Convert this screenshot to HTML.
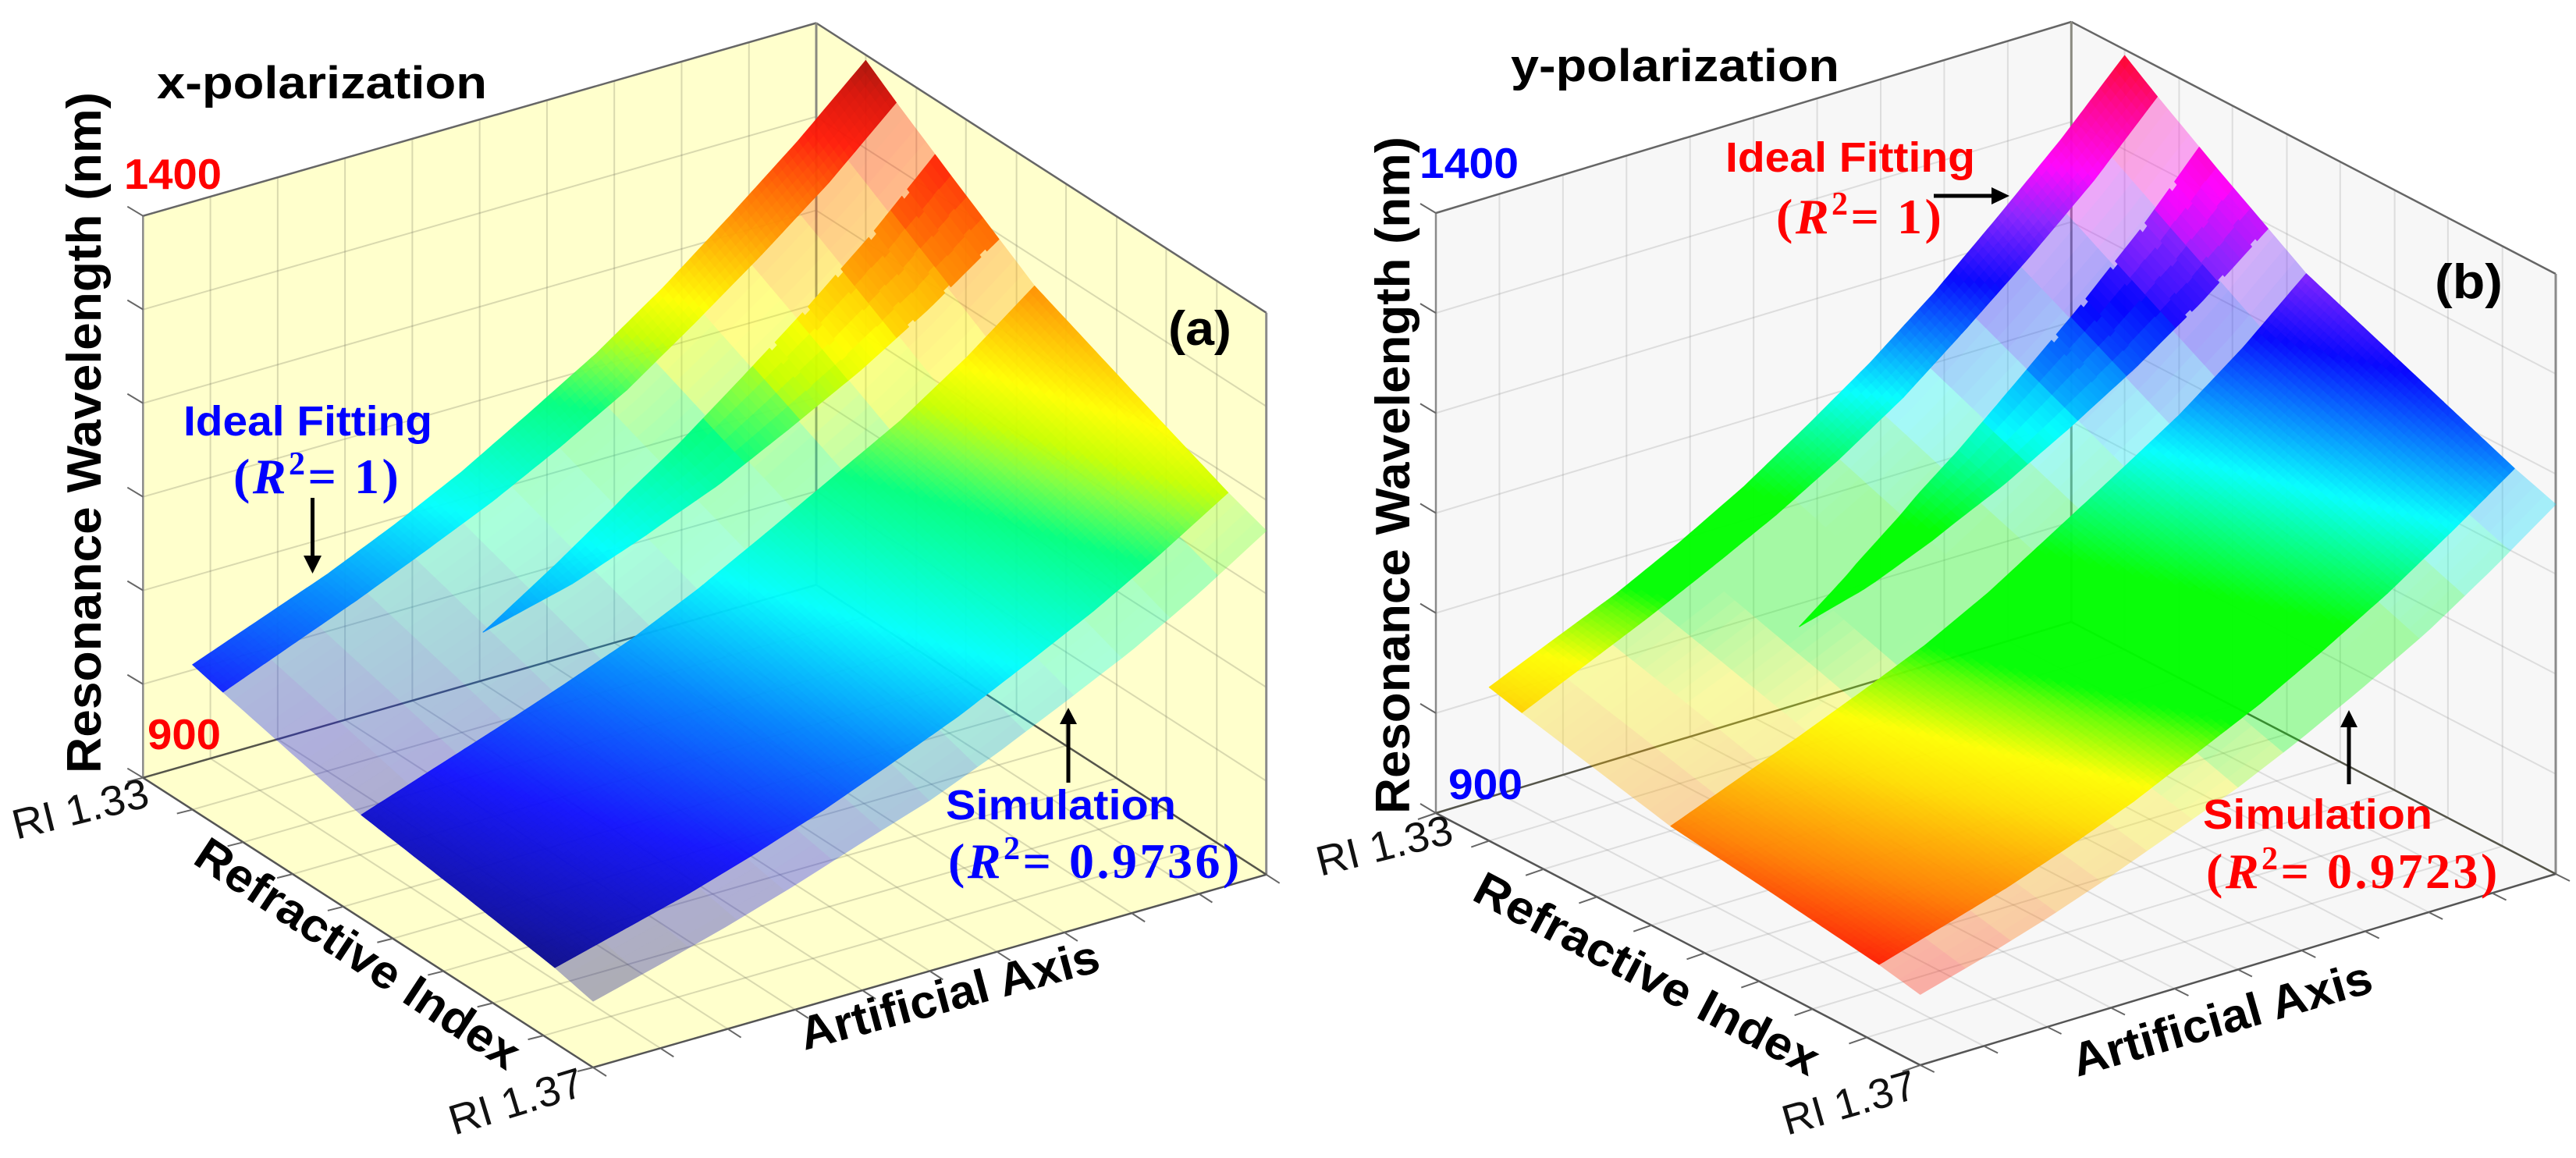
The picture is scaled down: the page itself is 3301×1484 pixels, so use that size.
<!DOCTYPE html>
<html lang="en">
<head>
<meta charset="utf-8">
<title>Resonance wavelength surfaces</title>
<style>
html,body{margin:0;padding:0;background:#fff;width:3301px;height:1484px;overflow:hidden}
svg{display:block}
text{font-family:"Liberation Sans",sans-serif}
.ttl{font-weight:700;fill:#000}
.tick{fill:#111;font-size:54px}
.lim{font-weight:700;font-size:55px}
.note{font-weight:700;font-size:54px}
.math{font-family:"Liberation Serif",serif;font-weight:700;font-size:64px;letter-spacing:3.5px}
.math .it{font-style:italic}
</style>
</head>
<body>
<svg id="figure" xmlns="http://www.w3.org/2000/svg" width="3301" height="1484" viewBox="0 0 3301 1484">
  <g id="panel-a"></g>
  <g id="panel-b"></g>

  <!-- panel a text -->
  <text class="ttl" x="201" y="126" font-size="58" textLength="423" lengthAdjust="spacingAndGlyphs">x-polarization</text>
  <text class="ttl" font-size="62" textLength="873" lengthAdjust="spacingAndGlyphs" transform="translate(129,991) rotate(-90)">Resonance Wavelength (nm)</text>
  <text class="lim" fill="#ff0000" x="159" y="242" textLength="125" lengthAdjust="spacingAndGlyphs">1400</text>
  <text class="lim" fill="#ff0000" x="189" y="960" textLength="94" lengthAdjust="spacingAndGlyphs">900</text>
  <text class="ttl" font-size="62" x="1497" y="442" textLength="81" lengthAdjust="spacingAndGlyphs">(a)</text>
  <text class="note" fill="#0000ff" x="235" y="558" textLength="319" lengthAdjust="spacingAndGlyphs">Ideal Fitting</text>
  <text class="math" fill="#0000ff" x="299" y="632">(<tspan class="it">R</tspan><tspan dy="-24" font-size="42">2</tspan><tspan dy="24">= 1)</tspan></text>
  <text class="note" fill="#0000ff" x="1212" y="1050" textLength="295" lengthAdjust="spacingAndGlyphs">Simulation</text>
  <text class="math" fill="#0000ff" x="1215" y="1125">(<tspan class="it">R</tspan><tspan dy="-24" font-size="42">2</tspan><tspan dy="24">= 0.9736)</tspan></text>
  <text class="ttl" font-size="60" textLength="485" lengthAdjust="spacingAndGlyphs" transform="translate(245,1105) rotate(33.5)">Refractive Index</text>
  <text class="ttl" font-size="60" textLength="395" lengthAdjust="spacingAndGlyphs" transform="translate(1031,1346) rotate(-15)">Artificial Axis</text>
  <text class="tick" textLength="178" lengthAdjust="spacingAndGlyphs" transform="translate(21,1076) rotate(-14)">RI 1.33</text>
  <text class="tick" textLength="177" lengthAdjust="spacingAndGlyphs" transform="translate(582,1455) rotate(-17)">RI 1.37</text>
  <g><rect x="398" y="638" width="5" height="76" fill="#000"/><polygon points="389,712 412,712 400.5,735" fill="#000"/></g>
  <g><rect x="1366.5" y="926" width="5" height="77" fill="#000"/><polygon points="1358,928 1380,928 1369,907" fill="#000"/></g>

  <!-- panel b text -->
  <text class="ttl" x="1936" y="104" font-size="58" textLength="421" lengthAdjust="spacingAndGlyphs">y-polarization</text>
  <text class="ttl" font-size="62" textLength="868" lengthAdjust="spacingAndGlyphs" transform="translate(1806,1043) rotate(-90)">Resonance Wavelength (nm)</text>
  <text class="lim" fill="#0000ff" x="1819" y="228" textLength="127" lengthAdjust="spacingAndGlyphs">1400</text>
  <text class="lim" fill="#0000ff" x="1856" y="1024" textLength="95" lengthAdjust="spacingAndGlyphs">900</text>
  <text class="ttl" font-size="62" x="3120" y="382" textLength="87" lengthAdjust="spacingAndGlyphs">(b)</text>
  <text class="note" fill="#ff0000" x="2211" y="220" textLength="320" lengthAdjust="spacingAndGlyphs">Ideal Fitting</text>
  <text class="math" fill="#ff0000" x="2276" y="299">(<tspan class="it">R</tspan><tspan dy="-24" font-size="42">2</tspan><tspan dy="24">= 1)</tspan></text>
  <text class="note" fill="#ff0000" x="2823" y="1062" textLength="294" lengthAdjust="spacingAndGlyphs">Simulation</text>
  <text class="math" fill="#ff0000" x="2827" y="1138">(<tspan class="it">R</tspan><tspan dy="-24" font-size="42">2</tspan><tspan dy="24">= 0.9723)</tspan></text>
  <text class="ttl" font-size="60" textLength="490" lengthAdjust="spacingAndGlyphs" transform="translate(1884,1152) rotate(27.7)">Refractive Index</text>
  <text class="ttl" font-size="60" textLength="397" lengthAdjust="spacingAndGlyphs" transform="translate(2662,1380) rotate(-16)">Artificial Axis</text>
  <text class="tick" textLength="178" lengthAdjust="spacingAndGlyphs" transform="translate(1692,1123) rotate(-14)">RI 1.33</text>
  <text class="tick" textLength="176" lengthAdjust="spacingAndGlyphs" transform="translate(2290,1455) rotate(-16)">RI 1.37</text>
  <g><rect x="2478" y="248.5" width="76" height="5" fill="#000"/><polygon points="2552,240 2552,262 2575,251" fill="#000"/></g>
  <g><rect x="3007.5" y="930" width="5" height="75" fill="#000"/><polygon points="2999,932 3021,932 3010,910" fill="#000"/></g>
</svg>

<script>
// ---- chart data ----
const artificialAxis = [0, 0.1, 0.2, 0.3, 0.4, 0.5, 0.6, 0.7, 0.8, 0.9, 1];
const refractiveIndex = [1.3344, 1.3371, 1.342, 1.3494, 1.358, 1.3666, 1.37];
const wavelengthX = [
  [1029, 1052, 1075, 1102, 1132, 1167, 1203, 1245, 1292, 1341, 1395],
  [1022, 1046, 1070, 1096, 1123, 1154, 1188, 1230, 1274, 1321, 1375],
  [1010, 1033, 1056, 1080, 1105, 1135, 1168, 1207, 1247, 1291, 1341],
  [ 992, 1013, 1034, 1056, 1079, 1107, 1139, 1172, 1205, 1245, 1291],
  [ 980,  998, 1017, 1037, 1059, 1085, 1113, 1144, 1176, 1213, 1254],
  [ 967,  983,  999, 1018, 1039, 1063, 1088, 1117, 1147, 1181, 1218],
  [ 959,  975,  992, 1011, 1032, 1052, 1077, 1105, 1134, 1168, 1206]
];
const wavelengthY = [
  [1028, 1051, 1074, 1101, 1131, 1166, 1203, 1245, 1292, 1341, 1395],
  [1021, 1045, 1069, 1095, 1122, 1153, 1188, 1230, 1274, 1321, 1375],
  [1009, 1032, 1055, 1079, 1104, 1134, 1168, 1207, 1247, 1291, 1341],
  [ 991, 1012, 1033, 1055, 1078, 1106, 1139, 1172, 1206, 1246, 1292],
  [ 979,  997, 1016, 1036, 1058, 1085, 1113, 1144, 1177, 1214, 1256],
  [ 966,  982,  998, 1017, 1038, 1063, 1088, 1117, 1148, 1183, 1220],
  [ 959,  974,  991, 1010, 1031, 1052, 1077, 1105, 1135, 1170, 1208]
];
// "middle wedge" of the opaque fitting surface
const wedgeArtificialX = [0.278, 0.4, 0.518, 0.6, 0.7, 0.85, 1];
const wedgeArtificialY = [0.313, 0.42, 0.53, 0.61, 0.7, 0.85, 1];
const wedgeUpperRI = [1.3436, 1.3427, 1.342, 1.3417, 1.3414, 1.34096, 1.34056];
const wedgeLowerRI = [1.3436, 1.34432, 1.3448, 1.3452, 1.34552, 1.34588, 1.34624];
// opaque / translucent strips across the refractive index
const opaqueStrips = [[1.3344, 1.3371], [1.3494, 1.3666]];
const translucentStrips = [[1.3371, 1.3494], [1.3666, 1.37]];
// axis ticks
const artificialTicks = [0, 0.1, 0.2, 0.3, 0.4, 0.5, 0.6, 0.7, 0.8, 0.9, 1];
const riTicks = [1.33, 1.3344, 1.3389, 1.3433, 1.3478, 1.3522, 1.3567, 1.3611, 1.3656, 1.37];
const wavelengthTicks = [900, 983.3, 1066.7, 1150, 1233.3, 1316.7, 1400];
// colour scales: wavelength stops and their colours
const jetNm = [959, 980, 1015, 1065, 1115, 1175, 1200, 1217, 1240, 1290, 1310, 1345, 1375, 1395];
const jetColors = ['#0a0a78', '#0c0cb0', '#1010ff', '#0080ff', '#00ffff', '#00ff80', '#80ff40', '#c8ff00', '#ffff00', '#ff9000', '#ff6a00', '#ff1808', '#d81008', '#a81008'];
const hueNm = [959, 967, 992, 1027, 1045, 1068, 1078, 1130, 1187, 1255, 1295, 1325, 1365, 1395];
const hueColors = ['#ff1410', '#ff2000', '#ff8000', '#ffe000', '#ffff00', '#60ff00', '#00ff00', '#00ff00', '#00ffff', '#0000ff', '#8a20ff', '#ff00ff', '#ff0090', '#ff0028'];

// ---- geometry of the two boxes ----
const panelA = {root:'panel-a', A:[183.3,996.7], C:[1046,749.5], B:[760,1368], H:720, wall:'#ffffcc', grid:'rgba(110,110,90,.26)', yTick:[-20,-12], riTick:[-20,5], artTick:[17,11], data:wavelengthX, wedge:wedgeArtificialX, nm:jetNm, colors:jetColors};
const panelB = {root:'panel-b', A:[1840,1042], C:[2654.3,797], B:[2460.7,1365], H:769, wall:'#f7f7f7', grid:'rgba(120,120,120,.2)', yTick:[-20,-12], riTick:[-23,8], artTick:[18,9], data:wavelengthY, wedge:wedgeArtificialY, nm:hueNm, colors:hueColors};

const SVGNS = 'http://www.w3.org/2000/svg';

// ---- axis functions ----
function artScale(a){ return a; }
function riScale(ri){ return (ri - 1.33) / 0.04; }
function nmScale(nm){ return (nm - 900) / 500; }
function project(p, a, ri, nm){
  const u = artScale(a), v = riScale(ri), w = nmScale(nm);
  return [
    p.A[0] + u*(p.C[0]-p.A[0]) + v*(p.B[0]-p.A[0]),
    p.A[1] + u*(p.C[1]-p.A[1]) + v*(p.B[1]-p.A[1]) - w*p.H
  ];
}
function locate(arr, x){
  let i = 0;
  while(i < arr.length-2 && x > arr[i+1]) i++;
  return [i, (x-arr[i])/(arr[i+1]-arr[i])];
}
function sample(m, a, ri){
  const [i,s] = locate(artificialAxis, a);
  const [j,t] = locate(refractiveIndex, ri);
  return (1-t)*((1-s)*m[j][i]+s*m[j][i+1]) + t*((1-s)*m[j+1][i]+s*m[j+1][i+1]);
}
function lookup(xs, ys, x){
  const [i,s] = locate(xs, x);
  return ys[i] + s*(ys[i+1]-ys[i]);
}
function hex(c){ return [parseInt(c.slice(1,3),16),parseInt(c.slice(3,5),16),parseInt(c.slice(5,7),16)]; }
function colorOf(p, nm){
  const v = Math.max(p.nm[0], Math.min(p.nm[p.nm.length-1], nm));
  const [i,s] = locate(p.nm, v);
  const c0 = hex(p.colors[i]), c1 = hex(p.colors[i+1]);
  return 'rgb(' + c0.map((c,k)=>Math.round(c+s*(c1[k]-c))).join(',') + ')';
}
function pts(list){ return list.map(q=>q[0].toFixed(1)+','+q[1].toFixed(1)).join(' '); }
function addLine(parent, q0, q1, stroke, width){
  const el = document.createElementNS(SVGNS,'line');
  el.setAttribute('x1',q0[0]); el.setAttribute('y1',q0[1]);
  el.setAttribute('x2',q1[0]); el.setAttribute('y2',q1[1]);
  el.setAttribute('stroke',stroke); el.setAttribute('stroke-width',width);
  parent.appendChild(el);
  return el;
}
function addPoly(parent, list, fill, stroke){
  const el = document.createElementNS(SVGNS,'polygon');
  el.setAttribute('points',pts(list));
  el.setAttribute('fill',fill);
  if(stroke){ el.setAttribute('stroke',fill); el.setAttribute('stroke-width','1'); el.setAttribute('stroke-linejoin','round'); }
  parent.appendChild(el);
  return el;
}
function addGroup(parent, opacity){
  const g = document.createElementNS(SVGNS,'g');
  if(opacity) g.setAttribute('opacity',opacity);
  parent.appendChild(g);
  return g;
}

function drawPanel(p){
  const root = document.getElementById(p.root);
  const floor = 900, top = 1400, r0 = 1.33, r1 = 1.37;
  const P = (a,ri,nm)=>project(p,a,ri,nm);
  let el;

  // walls and floor
  el = addPoly(root,[P(0,r0,floor),P(1,r0,floor),P(1,r0,top),P(0,r0,top)],p.wall);
  
  
  el = addPoly(root,[P(1,r0,floor),P(1,r1,floor),P(1,r1,top),P(1,r0,top)],p.wall);
  
  
  el = addPoly(root,[P(0,r0,floor),P(1,r0,floor),P(1,r1,floor),P(0,r1,floor)],p.wall);
  
  

  // grid lines
  artificialTicks.slice(1,-1).forEach(a=>{
    el = addLine(root,P(a,r0,floor),P(a,r0,top),p.grid,2);
    
    
    el = addLine(root,P(a,r0,floor),P(a,r1,floor),p.grid,2);
    
    
  });
  riTicks.slice(1,-1).forEach(ri=>{
    el = addLine(root,P(1,ri,floor),P(1,ri,top),p.grid,2);
    
    
    el = addLine(root,P(0,ri,floor),P(1,ri,floor),p.grid,2);
    
    
  });
  wavelengthTicks.slice(1,-1).forEach(nm=>{
    el = addLine(root,P(0,r0,nm),P(1,r0,nm),p.grid,2);
    
    
    el = addLine(root,P(1,r0,nm),P(1,r1,nm),p.grid,2);
    
    
  });

  // box outline
  const outline = [
    [P(0,r0,floor),P(0,r0,top),'#8a8a8a',2.5,'y-axis-line'],
    [P(0,r0,top),P(1,r0,top),'#666',2.5,'top-edge-left'],
    [P(1,r0,top),P(1,r1,top),'#666',2.5,'top-edge-right'],
    [P(1,r0,floor),P(1,r0,top),'#8a8a80',3,'back-corner-line'],
    [P(1,r1,floor),P(1,r1,top),'#8a8a8a',3,'right-edge-line'],
    [P(0,r0,floor),P(1,r0,floor),'#55554a',2.5,'floor-back-left-line'],
    [P(1,r0,floor),P(1,r1,floor),'#55554a',2.5,'floor-back-right-line'],
    [P(0,r0,floor),P(0,r1,floor),'#555',2.5,'ri-axis-line'],
    [P(0,r1,floor),P(1,r1,floor),'#555',2.5,'artificial-axis-line']
  ];
  outline.forEach(o=>{
    el = addLine(root,o[0],o[1],o[2],o[3]);
    
    
  });

  // tick marks
  wavelengthTicks.forEach(nm=>{
    const q = P(0,r0,nm);
    el = addLine(root,q,[q[0]+p.yTick[0],q[1]+p.yTick[1]],'#666',2);
    
    
  });
  riTicks.forEach(ri=>{
    const q = P(0,ri,floor);
    el = addLine(root,q,[q[0]+p.riTick[0],q[1]+p.riTick[1]],'#666',2);
    
    
  });
  artificialTicks.forEach(a=>{
    const q = P(a,r1,floor);
    el = addLine(root,q,[q[0]+p.artTick[0],q[1]+p.artTick[1]],'#666',2);
    
    
  });

  const m = p.data;
  const S = (a,ri)=>P(a,ri,sample(m,a,ri));

  // translucent simulation facets: stepped along the artificial axis, smooth across RI
  const ghost = addGroup(root,'0.33');
  
  
  const facets = 14;
  translucentStrips.forEach((strip,si)=>{
    const rows = si===0 ? 14 : 4;
    for(let j=0;j<rows;j++){
      const ra = strip[0]+(strip[1]-strip[0])*j/rows;
      const rb = strip[0]+(strip[1]-strip[0])*(j+1)/rows;
      for(let i=0;i<facets;i++){
        const a0=i/facets, a1=(i+1)/facets, outlinePts=[], back=[];
        for(let k=0;k<=4;k++){
          const a=a0+(a1-a0)*k/4;
          outlinePts.push(S(a,ra));
          back.unshift(S(a,rb));
        }
        el = addPoly(ghost,outlinePts.concat(back),colorOf(p,sample(m,(a0+a1)/2,(ra+rb)/2)),true);
        
        
      }
    }
  });

  // opaque fitting surface, smooth shaded
  const solid = addGroup(root,'0.96');
  
  
  const nA = 130;
  opaqueStrips.forEach((strip,si)=>{
    const nR = si===0 ? 6 : 44;
    for(let i=0;i<nA;i++){
      const a0=i/nA, a1=(i+1)/nA;
      for(let j=0;j<nR;j++){
        const ra=strip[0]+(strip[1]-strip[0])*j/nR, rb=strip[0]+(strip[1]-strip[0])*(j+1)/nR;
        el = addPoly(solid,[S(a0,ra),S(a1,ra),S(a1,rb),S(a0,rb)],colorOf(p,sample(m,(a0+a1)/2,(ra+rb)/2)),true);
        
        
      }
    }
  });

  // wedge between the two opaque strips, softly faceted with small notches on its edges
  const wSteps = 84, aStart = p.wedge[0];
  for(let i=0;i<wSteps;i++){
    const a0=aStart+(1-aStart)*i/wSteps, a1=aStart+(1-aStart)*(i+1)/wSteps;
    const mid=(a0+a1)/2;
    const ca=(Math.floor(mid*facets)+0.5)/facets;
    const jagU=(mid>0.72 && i%6===0)?0.00022:0;
    const jagL=(mid>0.85 && i%6===3)?-0.00015:0;
    const u0=lookup(p.wedge,wedgeUpperRI,a0)+jagU, u1=lookup(p.wedge,wedgeUpperRI,a1)+jagU;
    const l0=lookup(p.wedge,wedgeLowerRI,a0)+jagL, l1=lookup(p.wedge,wedgeLowerRI,a1)+jagL;
    const strips=4;
    const colorA = mid>0.6 ? mid*0.6+ca*0.4 : mid;
    for(let j=0;j<strips;j++){
      const s0=j/strips, s1=(j+1)/strips;
      const ua=u0+(l0-u0)*s0, ub=u1+(l1-u1)*s0, la=u0+(l0-u0)*s1, lb=u1+(l1-u1)*s1;
      el = addPoly(solid,[S(a0,ua),S(a1,ub),S(a1,lb),S(a0,la)],colorOf(p,sample(m,colorA,(ua+la)/2)),true);
      
      
    }
  }
}
drawPanel(panelA);
drawPanel(panelB);
</script>
</body>
</html>
